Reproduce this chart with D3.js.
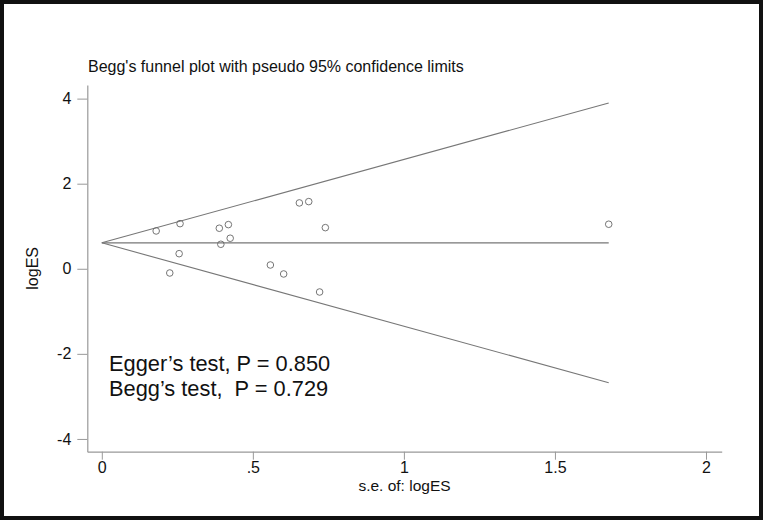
<!DOCTYPE html>
<html>
<head>
<meta charset="utf-8">
<script src="https://cdn.jsdelivr.net/npm/d3@7"></script>
<style>
  body { margin: 0; background: #fff; }
  svg { display: block; font-family: "Liberation Sans", Arial, sans-serif; }
</style>
</head>
<body>
<svg id="chart" width="763" height="520"></svg>
<script>
// study estimates
const seValues = [0.180, 0.259, 0.389, 0.419, 0.425, 0.394, 0.256, 0.225, 0.654, 0.685, 0.740, 0.558, 0.602, 0.721, 1.678];
const logES = [0.889, 1.061, 0.953, 1.038, 0.718, 0.576, 0.355, -0.099, 1.548, 1.579, 0.967, 0.089, -0.122, -0.546, 1.047];
const pooled = 0.61;
const xTicks = [0, 0.5, 1, 1.5, 2];
const xTickLabels = ['0', '.5', '1', '1.5', '2'];
const yTicks = [-4, -2, 0, 2, 4];
const yTickLabels = ['-4', '-2', '0', '2', '4'];
const annotations = ['Egger\u2019s test, P = 0.850', 'Begg\u2019s test,  P = 0.729'];

const svg = d3.select('#chart');

// outer frame
svg.append('rect')
   .attr('x', 2).attr('y', 2)
   .attr('width', 759).attr('height', 516)
   .attr('fill', 'none')
   .attr('stroke', '#111')
   .attr('stroke-width', 4);

const x = d3.scaleLinear().domain([-0.048, 2.052]).range([87.3, 721.7]);
const y = d3.scaleLinear().domain([-4.3, 4.32]).range([451.7, 85]);

const xAxis = d3.axisBottom(x)
  .tickValues(xTicks)
  .tickFormat((d, i) => xTickLabels[i])
  .tickSizeInner(8).tickSizeOuter(0).tickPadding(2);

const yAxis = d3.axisLeft(y)
  .tickValues(yTicks)
  .tickFormat((d, i) => yTickLabels[i])
  .tickSizeInner(10).tickSizeOuter(0).tickPadding(6);

const gx = svg.append('g').attr('transform', `translate(0,${y.range()[0]})`).call(xAxis);
const gy = svg.append('g').attr('transform', `translate(${x.range()[0]},0)`).call(yAxis);

[gx, gy].forEach((g) => {
  g.select('.domain').attr('stroke', '#999').attr('stroke-width', 1.2);
  g.selectAll('.tick line').attr('stroke', '#999');
  g.selectAll('.tick text').attr('fill', '#111').style('font-size', '16px');
});

// funnel lines: pseudo 95% limits and pooled estimate
const maxSe = d3.max(seValues);
const funnel = [
  [[0, pooled], [maxSe, pooled + 1.96 * maxSe]],
  [[0, pooled], [maxSe, pooled]],
  [[0, pooled], [maxSe, pooled - 1.96 * maxSe]],
];
const line = d3.line().x((d) => x(d[0])).y((d) => y(d[1]));
svg.append('g').selectAll('path')
   .data(funnel)
   .enter()
   .append('path')
   .attr('d', line)
   .attr('fill', 'none')
   .attr('stroke', '#777')
   .attr('stroke-width', 1.1);

svg.append('g').selectAll('circle')
   .data(seValues)
   .enter()
   .append('circle')
   .attr('cx', (d) => x(d))
   .attr('cy', (d, i) => y(logES[i]))
   .attr('r', 3.3)
   .attr('fill', 'none')
   .attr('stroke', '#666')
   .attr('stroke-width', 0.9);

svg.append('text')
   .attr('x', 88).attr('y', 72)
   .attr('fill', '#111')
   .style('font-size', '16px')
   .text('Begg\'s funnel plot with pseudo 95% confidence limits');

svg.append('text')
   .attr('x', (x.range()[0] + x.range()[1]) / 2).attr('y', 491)
   .attr('text-anchor', 'middle')
   .attr('fill', '#111')
   .style('font-size', '15.5px')
   .text('s.e. of: logES');

svg.append('text')
   .attr('transform', `translate(38,${(y.range()[0] + y.range()[1]) / 2}) rotate(-90)`)
   .attr('text-anchor', 'middle')
   .attr('fill', '#111')
   .style('font-size', '16px')
   .text('logES');

svg.append('g').selectAll('text')
   .data(annotations)
   .enter()
   .append('text')
   .attr('x', 109)
   .attr('y', (d, i) => 371 + i * 24.5)
   .attr('fill', '#111')
   .style('font-size', '21.8px')
   .style('white-space', 'pre')
   .text((d) => d);
</script>
</body>
</html>
